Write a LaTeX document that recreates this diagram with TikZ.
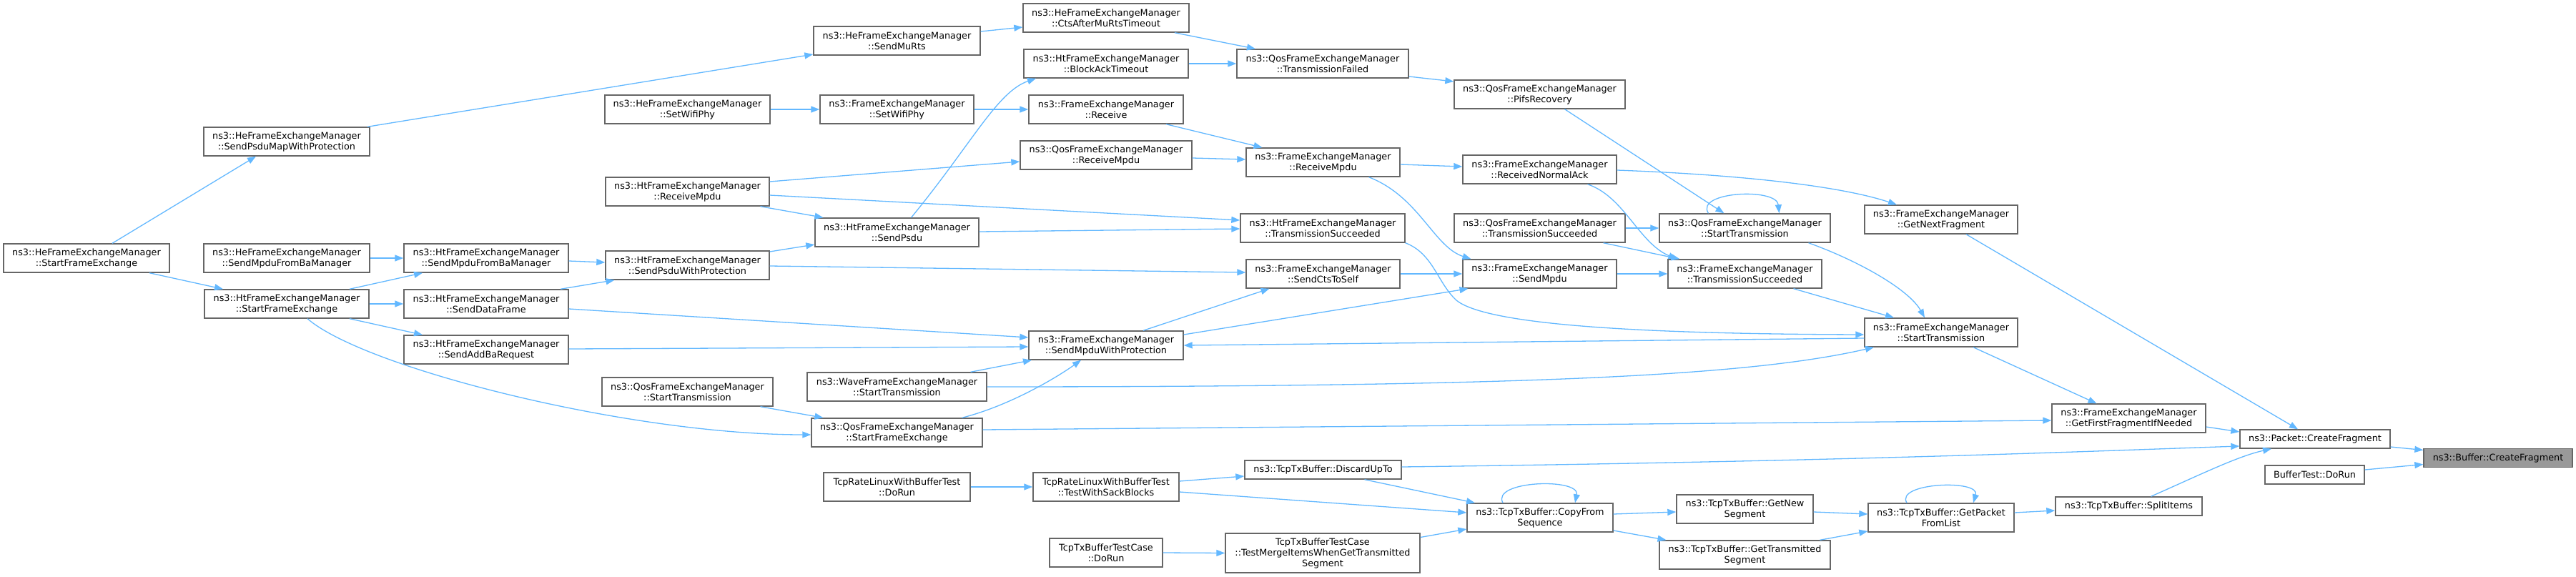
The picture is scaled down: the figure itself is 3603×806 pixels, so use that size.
\documentclass[tikz,border=0pt]{standalone}
\usepackage{fontspec}
\setmainfont{DejaVu Sans}
\usetikzlibrary{arrows.meta}
\definecolor{edgec}{HTML}{63B8FF}
\definecolor{boxc}{HTML}{666666}
\definecolor{hilite}{HTML}{999999}
\tikzset{
  box/.style={draw=boxc, fill=white, line width=1.4pt, inner sep=0pt, align=center,
    font=\fontsize{12.8pt}{15pt}\selectfont},
  cur/.style={box, fill=hilite},
  edge/.style={draw=edgec, line width=1.3pt, -{Triangle[length=12pt,width=9pt]}}
}
\newcommand{\bx}[7][box]{\node[#1, minimum width=#5pt, minimum height=#6pt] (#2) at (#3,#4) {#7};}
\begin{document}
\begin{tikzpicture}[x=1pt,y=-1pt]
\useasboundingbox (0,0) rectangle (3603,806);
% column 1
\bx{heSFE}{121}{361}{232}{40}{ns3::HeFrameExchangeManager\\::StartFrameExchange}
% column 2
\bx{heSPMWP}{401}{198}{232}{40}{ns3::HeFrameExchangeManager\\::SendPsduMapWithProtection}
\bx{heSMFBM}{401}{361}{232}{40}{ns3::HeFrameExchangeManager\\::SendMpduFromBaManager}
\bx{htSFE}{401}{425}{230}{40}{ns3::HtFrameExchangeManager\\::StartFrameExchange}
% column 3
\bx{htSMFBM}{680}{361}{230}{40}{ns3::HtFrameExchangeManager\\::SendMpduFromBaManager}
\bx{htSendDataFrame}{680}{425}{230}{40}{ns3::HtFrameExchangeManager\\::SendDataFrame}
\bx{htSendAddBa}{680}{489}{230}{40}{ns3::HtFrameExchangeManager\\::SendAddBaRequest}
% column 4
\bx{heSetWifiPhy}{961.5}{153}{231}{40}{ns3::HeFrameExchangeManager\\::SetWifiPhy}
\bx{htReceiveMpdu}{961.5}{268}{229}{40}{ns3::HtFrameExchangeManager\\::ReceiveMpdu}
\bx{htSPWP}{961.5}{371}{229}{40}{ns3::HtFrameExchangeManager\\::SendPsduWithProtection}
\bx{qosStL}{961.5}{548}{239}{40}{ns3::QosFrameExchangeManager\\::StartTransmission}
% column 5
\bx{heSendMuRts}{1254.5}{57}{233}{40}{ns3::HeFrameExchangeManager\\::SendMuRts}
\bx{femSetWifiPhy}{1254.5}{153}{215}{40}{ns3::FrameExchangeManager\\::SetWifiPhy}
\bx{htSendPsdu}{1254.5}{325}{229}{40}{ns3::HtFrameExchangeManager\\::SendPsdu}
\bx{waveST}{1254.5}{541}{251}{40}{ns3::WaveFrameExchangeManager\\::StartTransmission}
\bx{qosSFE}{1254.5}{605}{239}{40}{ns3::QosFrameExchangeManager\\::StartFrameExchange}
\bx{tcpRateDoRun}{1254.5}{681}{205}{40}{TcpRateLinuxWithBufferTest\\::DoRun}
% column 6
\bx{ctsAfter}{1547}{25}{232}{40}{ns3::HeFrameExchangeManager\\::CtsAfterMuRtsTimeout}
\bx{blockAck}{1547}{89}{230}{40}{ns3::HtFrameExchangeManager\\::BlockAckTimeout}
\bx{femReceive}{1547}{153}{216}{40}{ns3::FrameExchangeManager\\::Receive}
\bx{qosReceiveMpdu}{1547}{217}{240}{40}{ns3::QosFrameExchangeManager\\::ReceiveMpdu}
\bx{smwp}{1547}{483}{216}{40}{ns3::FrameExchangeManager\\::SendMpduWithProtection}
\bx{testWithSack}{1547}{681}{204}{40}{TcpRateLinuxWithBufferTest\\::TestWithSackBlocks}
\bx{tcpTxTestDoRun}{1547}{773}{158}{40}{TcpTxBufferTestCase\\::DoRun}
% column 7
\bx{qosTransFailed}{1850}{89}{240}{40}{ns3::QosFrameExchangeManager\\::TransmissionFailed}
\bx{femReceiveMpdu}{1850.5}{227}{215}{40}{ns3::FrameExchangeManager\\::ReceiveMpdu}
\bx{htTransSucc}{1850}{319}{230}{40}{ns3::HtFrameExchangeManager\\::TransmissionSucceeded}
\bx{femSendCtsToSelf}{1850.5}{383}{215}{40}{ns3::FrameExchangeManager\\::SendCtsToSelf}
\bx{discardUpTo}{1850.5}{657}{219}{26}{ns3::TcpTxBuffer::DiscardUpTo}
\bx{testMerge}{1850}{773.5}{272}{55}{TcpTxBufferTestCase\\::TestMergeItemsWhenGetTransmitted\\Segment}
% column 8
\bx{pifs}{2153.5}{132}{239}{40}{ns3::QosFrameExchangeManager\\::PifsRecovery}
\bx{receivedNormalAck}{2153.5}{237}{215}{40}{ns3::FrameExchangeManager\\::ReceivedNormalAck}
\bx{qosTransSucc}{2153.5}{319}{239}{40}{ns3::QosFrameExchangeManager\\::TransmissionSucceeded}
\bx{femSendMpdu}{2153.5}{383}{215}{40}{ns3::FrameExchangeManager\\::SendMpdu}
\bx{copyFromSeq}{2154}{724}{204}{40}{ns3::TcpTxBuffer::CopyFrom\\Sequence}
% column 9
\bx{qosStartTrans}{2440.5}{319}{239}{40}{ns3::QosFrameExchangeManager\\::StartTransmission}
\bx{femTransSucc}{2440.5}{383}{215}{40}{ns3::FrameExchangeManager\\::TransmissionSucceeded}
\bx{getNewSegment}{2440.5}{712}{191}{40}{ns3::TcpTxBuffer::GetNew\\Segment}
\bx{getTransSeg}{2440.5}{776}{239}{40}{ns3::TcpTxBuffer::GetTransmitted\\Segment}
% column 10
\bx{getNextFragment}{2715}{307}{214}{40}{ns3::FrameExchangeManager\\::GetNextFragment}
\bx{femStartTrans}{2715}{465}{214}{40}{ns3::FrameExchangeManager\\::StartTransmission}
\bx{getPacketFromList}{2715}{724}{204}{40}{ns3::TcpTxBuffer::GetPacket\\FromList}
% column 11
\bx{getFirstFrag}{2977.5}{585}{215}{40}{ns3::FrameExchangeManager\\::GetFirstFragmentIfNeeded}
\bx{splitItems}{2977.5}{708}{205}{26}{ns3::TcpTxBuffer::SplitItems}
% column 12
\bx{packetCF}{3238}{614}{210}{26}{ns3::Packet::CreateFragment}
\bx{bufferTestDoRun}{3237.5}{664}{139}{26}{BufferTest::DoRun}
% column 13
\bx[cur]{bufferCF}{3494}{640.5}{208}{26}{ns3::Buffer::CreateFragment}

% edges
\draw[edge] ([xshift=36pt]heSFE.north) -- ([xshift=-43pt]heSPMWP.south);
\draw[edge] ([xshift=88pt]heSFE.south) -- ([xshift=-89pt]htSFE.north);
\draw[edge] (heSMFBM.east) -- (htSMFBM.west);
\draw[edge] ([xshift=88pt]htSFE.north) -- ([xshift=-89pt]htSMFBM.south);
\draw[edge] (htSFE.east) -- (htSendDataFrame.west);
\draw[edge] ([xshift=88pt]htSFE.south) -- ([xshift=-89pt]htSendAddBa.north);
\draw[edge] ([xshift=29pt]htSFE.south) .. controls (510,515) and (880,608) .. ([yshift=-3pt]qosSFE.west);
\draw[edge] ([xshift=113pt]heSPMWP.north) -- ([yshift=-19pt]heSendMuRts.west);
\draw[edge] (heSetWifiPhy.east) -- (femSetWifiPhy.west);
\draw[edge] ([yshift=14pt]htReceiveMpdu.east) -- ([yshift=-9pt]qosReceiveMpdu.west);
\draw[edge] ([yshift=-5pt]htReceiveMpdu.east) -- ([yshift=11pt]htTransSucc.west);
\draw[edge] ([xshift=102pt]htReceiveMpdu.south) -- ([xshift=-103pt]htSendPsdu.north);
\draw[edge] ([yshift=-4pt]htSMFBM.east) -- ([yshift=4pt]htSPWP.west);
\draw[edge] ([xshift=104pt]htSendDataFrame.north) -- ([xshift=-102pt]htSPWP.south);
\draw[edge] ([yshift=19pt]htSPWP.east) -- ([yshift=-17pt]htSendPsdu.west);
\draw[edge] ([yshift=-1pt]htSPWP.east) -- ([yshift=2pt]femSendCtsToSelf.west);
\draw[edge] ([yshift=-7pt]htSendDataFrame.east) -- ([yshift=11pt]smwp.west);
\draw[edge] ([yshift=1pt]htSendAddBa.east) -- ([yshift=-2pt]smwp.west);
\draw[edge] ([xshift=102pt]qosStL.south) -- ([xshift=-103pt]qosSFE.north);
\draw[edge] ([yshift=13pt]heSendMuRts.east) -- ([yshift=-13pt]ctsAfter.west);
\draw[edge] ([xshift=96pt]ctsAfter.south) -- ([xshift=-94pt]qosTransFailed.north);
\draw[edge] (blockAck.east) -- (qosTransFailed.west);
\draw[edge] (femSetWifiPhy.east) -- (femReceive.west);
\draw[edge] ([xshift=84pt]femReceive.south) -- ([xshift=-85pt]femReceiveMpdu.north);
\draw[edge] ([yshift=-4pt]qosReceiveMpdu.east) -- ([yshift=4pt]femReceiveMpdu.west);
\draw[edge] ([xshift=20pt]htSendPsdu.north) .. controls (1360,200) and (1395,128) .. ([xshift=-98pt]blockAck.south);
\draw[edge] ([yshift=1pt]htSendPsdu.east) -- ([yshift=-1pt]htTransSucc.west);
\draw[edge] ([xshift=52pt]smwp.north) -- ([xshift=-75pt]femSendCtsToSelf.south);
\draw[edge] ([yshift=15pt]smwp.east) -- ([xshift=-100pt]femSendMpdu.south);
\draw[edge] ([yshift=-8pt]femStartTrans.west) -- (smwp.east);
\draw[edge] ([xshift=103pt]waveST.north) -- ([xshift=-104pt]smwp.south);
\draw[edge] ([xshift=91pt]qosSFE.north) .. controls (1410,568) and (1475,530) .. ([xshift=-35pt]smwp.south);
\draw[edge] (waveST.east) .. controls (2150,541) and (2450,525) .. ([xshift=-94pt]femStartTrans.south);
\draw[edge] ([yshift=4pt]qosSFE.east) -- ([yshift=-3pt]getFirstFrag.west);
\draw[edge] (tcpRateDoRun.east) -- (testWithSack.west);
\draw[edge] ([yshift=8pt]testWithSack.east) -- ([yshift=-9pt]discardUpTo.west);
\draw[edge] ([yshift=-7pt]testWithSack.east) -- ([yshift=7pt]copyFromSeq.west);
\draw[edge] (tcpTxTestDoRun.east) -- (testMerge.west);
\draw[edge] ([yshift=-18pt]qosTransFailed.east) -- ([yshift=18pt]pifs.west);
\draw[edge] ([xshift=35pt]pifs.south) -- ([xshift=-29pt]qosStartTrans.north);
\draw[edge] ([yshift=-3pt]femReceiveMpdu.east) -- ([yshift=4pt]receivedNormalAck.west);
\draw[edge] ([xshift=64pt]femReceiveMpdu.south) .. controls (1985,275) and (2005,345) .. ([xshift=-96pt]femSendMpdu.north);
\draw[edge] ([yshift=-1pt]receivedNormalAck.east) .. controls (2450,245) and (2580,262) .. ([xshift=-62pt]getNextFragment.north);
\draw[edge] ([xshift=67pt]receivedNormalAck.south) .. controls (2272,275) and (2292,340) .. ([xshift=-95pt]femTransSucc.north);
\draw[edge] (htTransSucc.south east) .. controls (2005,355) and (2010,395) .. (2037,420) .. controls (2080,455) and (2300,467) .. ([yshift=-3pt]femStartTrans.west);
\draw[edge] (qosTransSucc.east) -- (qosStartTrans.west);
\draw[edge] ([xshift=89pt]qosTransSucc.south) -- ([xshift=-91pt]femTransSucc.north);
\draw[edge] (femSendCtsToSelf.east) -- (femSendMpdu.west);
\draw[edge] (femSendMpdu.east) -- (femTransSucc.west);
\draw[edge] ([xshift=-51pt]qosStartTrans.north) .. controls (2370,268) and (2485,262) .. ([xshift=48pt]qosStartTrans.north);
\draw[edge] ([xshift=89pt]qosStartTrans.south) .. controls (2600,365) and (2670,405) .. ([xshift=-23pt]femStartTrans.north);
\draw[edge] ([xshift=68pt]femTransSucc.south) -- ([xshift=-66pt]femStartTrans.north);
\draw[edge] ([xshift=45pt]femStartTrans.south) -- ([xshift=-45pt]getFirstFrag.north);
\draw[edge] ([xshift=35pt]getNextFragment.south) -- ([xshift=-24pt]packetCF.north);
\draw[edge] ([yshift=-12pt]getFirstFrag.east) -- ([yshift=10pt]packetCF.west);
\draw[edge] ([yshift=4pt]discardUpTo.east) .. controls (2600,645) and (2950,630) .. ([yshift=-10pt]packetCF.west);
\draw[edge] ([xshift=31pt]splitItems.north) .. controls (3075,665) and (3130,638) .. ([xshift=-61pt]packetCF.south);
\draw[edge] ([yshift=-11pt]packetCF.east) -- ([yshift=11pt]bufferCF.west);
\draw[edge] ([yshift=7pt]bufferTestDoRun.east) -- ([yshift=-9pt]bufferCF.west);
\draw[edge] ([xshift=58pt]discardUpTo.south) -- ([xshift=-91pt]copyFromSeq.north);
\draw[edge] ([yshift=22pt]testMerge.east) -- ([yshift=-16pt]copyFromSeq.west);
\draw[edge] ([xshift=-52pt]copyFromSeq.north) .. controls (2085,672) and (2210,668) .. ([xshift=49pt]copyFromSeq.north);
\draw[edge] ([yshift=5pt]copyFromSeq.east) -- ([yshift=-4pt]getNewSegment.west);
\draw[edge] ([yshift=-18pt]copyFromSeq.east) -- ([xshift=-110pt]getTransSeg.north);
\draw[edge] ([yshift=-4pt]getNewSegment.east) -- ([yshift=5pt]getPacketFromList.west);
\draw[edge] ([xshift=105pt]getTransSeg.north) -- ([yshift=-19pt]getPacketFromList.west);
\draw[edge] ([xshift=-48pt]getPacketFromList.north) .. controls (2650,675) and (2770,670) .. ([xshift=45pt]getPacketFromList.north);
\draw[edge] ([yshift=7pt]getPacketFromList.east) -- ([yshift=-6pt]splitItems.west);
\end{tikzpicture}
\end{document}
